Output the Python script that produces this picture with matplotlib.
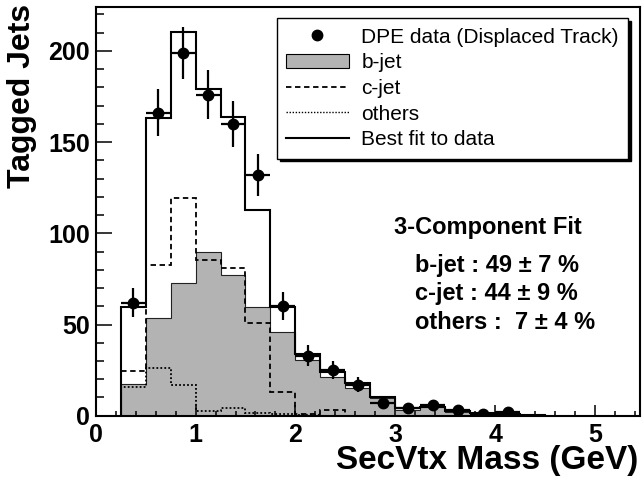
import numpy as np
import matplotlib
matplotlib.use('Agg')
import matplotlib.pyplot as plt
from matplotlib.lines import Line2D
from matplotlib.patches import Patch
from matplotlib.ticker import MultipleLocator

plt.rcParams['font.family'] = 'Liberation Sans'

# bin edges of the SecVtx mass histogram (GeV)
bin_edges = [0.25, 0.5, 0.75, 1.0, 1.25, 1.5, 1.75, 2.0, 2.25, 2.5,
             2.75, 3.0, 3.25, 3.5, 3.75, 4.0, 4.25, 4.5]

# fitted templates, one value per bin
fit_total = [59.5, 163.5, 210.5, 179, 164, 113, 59.5, 34, 24, 18,
             10, 4, 5, 2.4, 1.2, 1.0, 0.4]
b_jet = [17.3, 53.3, 73, 89.5, 77, 59.7, 46, 30.5, 21, 15,
         9.7, 3.1, 4.5, 1.8, 1.0, 0.8, 0.3]
c_jet = [24.3, 82.6, 119.6, 85.5, 81, 50.6, 12.8, 1.0, 3.0, 0,
         0, 0, 0, 0, 0, 0, 0]
others = [16, 26, 16.8, 2.7, 4, 1.5, 0.7, 0.3, 0, 0,
          0, 0, 0, 0, 0, 0, 0]

# DPE data points (first 16 bins)
data_counts = [62, 166, 199, 176, 160, 132, 60, 33, 25, 17, 7, 4, 6, 3, 1, 2]
data_err = [7.9, 12.9, 14.1, 13.3, 12.6, 11.5, 7.7, 5.7, 5.0, 4.1,
            2.7, 2.0, 2.4, 1.7, 1.0, 1.4]

fit_lines = ['3-Component Fit',
             'b-jet : 49 \u00b1 7 %',
             'c-jet : 44 \u00b1 9 %',
             'others :  7 \u00b1 4 %']

edges = np.array(bin_edges)
centers = 0.5 * (edges[:-1] + edges[1:])[:len(data_counts)]
half_w = 0.5 * np.diff(edges)[:len(data_counts)]

fig = plt.figure(figsize=(6.42, 4.8), dpi=100)
ax = fig.add_axes([0.149, 0.134, 0.848, 0.851])

ax.stairs(b_jet, edges, fill=True, facecolor='#b3b3b3', edgecolor='none', zorder=1)
ax.stairs(b_jet, edges, color='#222222', lw=0.8, baseline=0, zorder=2)
ax.stairs(others, edges, color='black', lw=1.3, ls=(0, (1, 1.2)), baseline=0, zorder=3)
ax.stairs(c_jet, edges, color='black', lw=1.3, ls=(0, (3, 2)), baseline=0, zorder=3)
ax.stairs(fit_total, edges, color='black', lw=1.5, baseline=0, zorder=4)
ax.errorbar(centers, data_counts, yerr=data_err, xerr=half_w, fmt='o', color='black',
            ms=7.5, elinewidth=1.6, capsize=0, zorder=5)

ax.set_xlim(0, 5.45)
ax.set_ylim(0, 224)
ax.xaxis.set_major_locator(MultipleLocator(1))
ax.xaxis.set_minor_locator(MultipleLocator(0.2))
ax.yaxis.set_major_locator(MultipleLocator(50))
ax.yaxis.set_minor_locator(MultipleLocator(10))
ax.tick_params(axis='both', which='both', direction='in', top=False, right=False,
               width=1.1, labelsize=18)
ax.tick_params(axis='y', which='major', length=11.5, pad=4)
ax.tick_params(axis='y', which='minor', length=5.8)
ax.tick_params(axis='x', which='major', length=8, pad=5)
ax.tick_params(axis='x', which='minor', length=3.6)
for lab in ax.get_xticklabels() + ax.get_yticklabels():
    lab.set_fontweight('bold')
for sp in ax.spines.values():
    sp.set_linewidth(1.5)

fig.text(22 / 642, 1 - 4 / 480, 'Tagged Jets', rotation=90, ha='center', va='top',
         fontsize=23, fontweight='bold')
fig.text(638 / 642, 1 - 460 / 480, 'SecVtx Mass (GeV)', ha='right', va='center',
         fontsize=24, fontweight='bold')

ax.text(2.99, 103.3, fit_lines[0], fontsize=17, fontweight='bold', va='center')
for txt, yv in zip(fit_lines[1:], [82.5, 67.2, 51.3]):
    ax.text(3.195, yv, txt, fontsize=17, fontweight='bold', va='center')

handles = [Line2D([], [], marker='o', color='black', ls='none', ms=7.5),
           Patch(facecolor='#b3b3b3', edgecolor='black', lw=0.8),
           Line2D([], [], color='black', lw=1.3, ls=(0, (3, 2))),
           Line2D([], [], color='black', lw=1.0, ls=(0, (1, 1.2))),
           Line2D([], [], color='black', lw=1.5)]
labels = ['DPE data (Displaced Track)', 'b-jet', 'c-jet', 'others', 'Best fit to data']
leg = ax.legend(handles, labels, loc='upper right', bbox_to_anchor=(0.978, 0.973),
                borderaxespad=0, fontsize=15, handlelength=3.0, handletextpad=0.6,
                labelspacing=0.32, borderpad=0.45, fancybox=False,
                shadow={'color': 'black', 'alpha': 1}, framealpha=1)
leg.get_frame().set_edgecolor('black')
leg.get_frame().set_linewidth(1.0)

fig.savefig('out.png', dpi=100)
